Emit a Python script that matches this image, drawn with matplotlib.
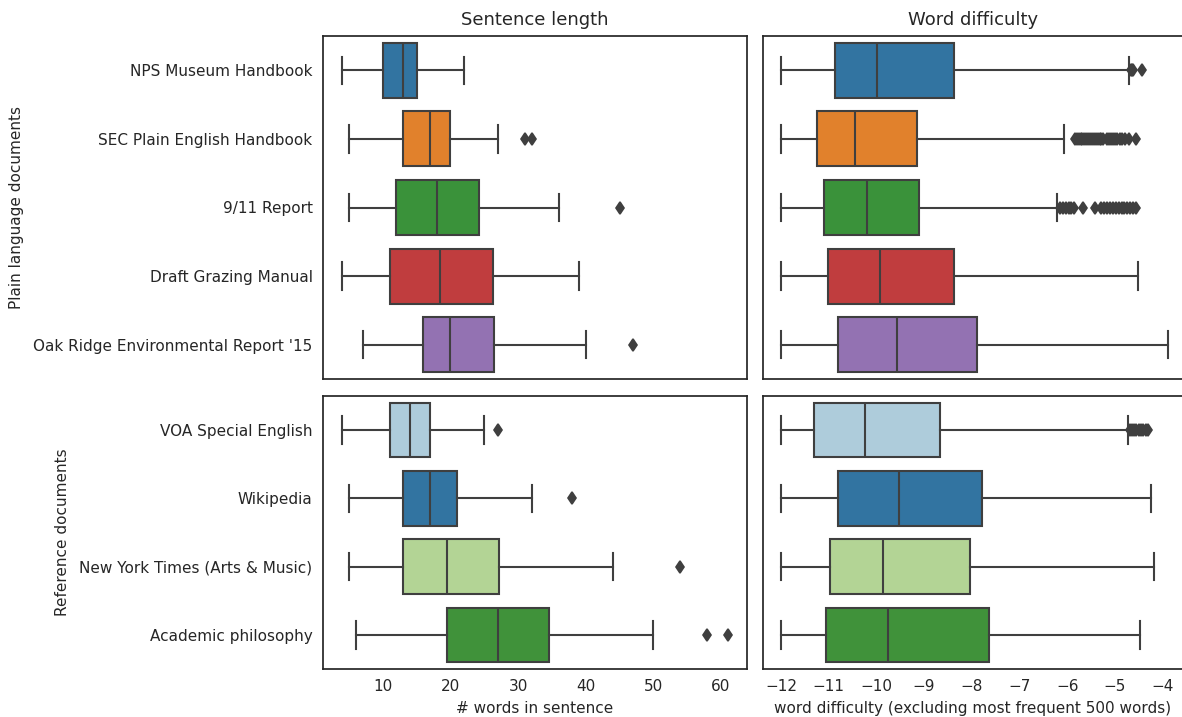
import colorsys
import matplotlib
matplotlib.use("Agg")
import matplotlib.pyplot as plt
from matplotlib import colors as mcolors

# ---------------- data ----------------
plain_docs = ["NPS Museum Handbook", "SEC Plain English Handbook", "9/11 Report",
              "Draft Grazing Manual", "Oak Ridge Environmental Report '15"]
ref_docs = ["VOA Special English", "Wikipedia", "New York Times (Arts & Music)",
            "Academic philosophy"]

# Sentence length (# words in sentence)
plain_sent_whislo = [4, 5, 5, 4, 7]
plain_sent_q1 = [10, 13, 12, 11, 16]
plain_sent_med = [13, 17, 18, 18.5, 20]
plain_sent_q3 = [15, 20, 24.25, 26.25, 26.5]
plain_sent_whishi = [22, 27, 36, 39, 40]
plain_sent_fliers = [[], [31, 32], [45], [], [47]]

ref_sent_whislo = [4, 5, 5, 6]
ref_sent_q1 = [11, 13, 13, 19.5]
ref_sent_med = [14, 17, 19.5, 27]
ref_sent_q3 = [17, 21, 27.25, 34.5]
ref_sent_whishi = [25, 32, 44, 50]
ref_sent_fliers = [[27], [38], [54], [58, 61]]

# Word difficulty
plain_diff_whislo = [-12, -12, -12, -12, -12]
plain_diff_q1 = [-10.87, -11.24, -11.11, -11.01, -10.80]
plain_diff_med = [-9.99, -10.46, -10.20, -9.92, -9.57]
plain_diff_q3 = [-8.38, -9.15, -9.10, -8.37, -7.90]
plain_diff_whishi = [-4.70, -6.07, -6.22, -4.52, -3.89]
plain_diff_fliers = [
    [-4.67, -4.64, -4.61, -4.42],
    [-5.84, -5.80, -5.76, -5.72, -5.68, -5.64, -5.60, -5.56, -5.52, -5.48, -5.44,
     -5.40, -5.36, -5.32, -5.28, -5.24, -5.16, -5.12, -5.08, -5.04, -5.00, -4.96,
     -4.90, -4.84, -4.78, -4.70, -4.56],
    [-6.15, -6.09, -6.03, -5.97, -5.91, -5.85, -5.66, -5.42, -5.28, -5.22, -5.16,
     -5.10, -5.04, -4.98, -4.92, -4.86, -4.80, -4.74, -4.68, -4.62, -4.56],
    [],
    [],
]

ref_diff_whislo = [-12, -12, -12, -12]
ref_diff_q1 = [-11.31, -10.81, -10.97, -11.06]
ref_diff_med = [-10.24, -9.53, -9.87, -9.75]
ref_diff_q3 = [-8.66, -7.78, -8.04, -7.63]
ref_diff_whishi = [-4.72, -4.24, -4.18, -4.47]
ref_diff_fliers = [[-4.68, -4.64, -4.60, -4.55, -4.50, -4.45, -4.40, -4.35, -4.31],
                   [], [], []]

plain_colors_base = ["#1f77b4", "#ff7f0e", "#2ca02c", "#d62728", "#9467bd"]
ref_colors_base = ["#a6cee3", "#1f78b4", "#b2df8a", "#33a02c"]

sent_xticks = [10, 20, 30, 40, 50, 60]
diff_xticks = [-12, -11, -10, -9, -8, -7, -6, -5, -4]


# ---------------- helpers ----------------
def desaturate(c, prop=0.75):
    r, g, b = mcolors.to_rgb(c)
    h, l, s = colorsys.rgb_to_hls(r, g, b)
    return colorsys.hls_to_rgb(h, l, s * prop)


def make_stats(labels, lo, q1, med, q3, hi, fliers):
    return [dict(label=lab, whislo=a, q1=b, med=c, q3=d, whishi=e, fliers=f)
            for lab, a, b, c, d, e, f in zip(labels, lo, q1, med, q3, hi, fliers)]


GRAY = "#3f3f3f"
TXT = "#262626"
LW = 1.5


def draw(ax, stats, cols):
    n = len(stats)
    res = ax.bxp(stats, positions=list(range(n)), widths=0.8, vert=False,
                 patch_artist=True, showfliers=True,
                 boxprops=dict(edgecolor=GRAY, linewidth=LW),
                 medianprops=dict(color=GRAY, linewidth=LW),
                 whiskerprops=dict(color=GRAY, linewidth=LW),
                 capprops=dict(color=GRAY, linewidth=LW),
                 flierprops=dict(marker="d", markerfacecolor=GRAY,
                                 markeredgecolor=GRAY, markersize=6.5,
                                 markeredgewidth=1.2, linestyle="none"))
    for patch, c in zip(res["boxes"], cols):
        patch.set_facecolor(desaturate(c))
    ax.set_ylim(n - 0.5, -0.5)
    ax.set_yticks(list(range(n)))
    for sp in ax.spines.values():
        sp.set_color(TXT)
        sp.set_linewidth(1.25)
    ax.tick_params(length=0, labelsize=11, colors=TXT, pad=7.5)
    ax.grid(False)


# ---------------- figure ----------------
fig = plt.figure(figsize=(11.82, 7.17), dpi=100)
W, H = 1182.0, 717.0


def box(l, t, r, b):
    return [l / W, 1 - b / H, (r - l) / W, (b - t) / H]


ax_ps = fig.add_axes(box(323, 36, 747, 379))
ax_pd = fig.add_axes(box(763, 36, 1183, 379))
ax_rs = fig.add_axes(box(323, 396, 747, 669))
ax_rd = fig.add_axes(box(763, 396, 1183, 669))

draw(ax_ps, make_stats(plain_docs, plain_sent_whislo, plain_sent_q1, plain_sent_med,
                       plain_sent_q3, plain_sent_whishi, plain_sent_fliers),
     plain_colors_base)
draw(ax_pd, make_stats(plain_docs, plain_diff_whislo, plain_diff_q1, plain_diff_med,
                       plain_diff_q3, plain_diff_whishi, plain_diff_fliers),
     plain_colors_base)
draw(ax_rs, make_stats(ref_docs, ref_sent_whislo, ref_sent_q1, ref_sent_med,
                       ref_sent_q3, ref_sent_whishi, ref_sent_fliers),
     ref_colors_base)
draw(ax_rd, make_stats(ref_docs, ref_diff_whislo, ref_diff_q1, ref_diff_med,
                       ref_diff_q3, ref_diff_whishi, ref_diff_fliers),
     ref_colors_base)

for ax in (ax_ps, ax_rs):
    ax.set_xlim(1.15, 63.85)
    ax.set_xticks(sent_xticks)
for ax in (ax_pd, ax_rd):
    ax.set_xlim(-12.38, -3.57)
    ax.set_xticks(diff_xticks)

ax_ps.set_yticklabels(plain_docs)
ax_rs.set_yticklabels(ref_docs)
ax_pd.set_yticklabels([])
ax_rd.set_yticklabels([])
ax_ps.set_xticklabels([])
ax_pd.set_xticklabels([])
ax_rs.set_xticklabels([str(t) for t in sent_xticks])
ax_rd.set_xticklabels(["\u2212" + str(abs(t)) for t in diff_xticks])

ax_ps.set_title("Sentence length", fontsize=13, color=TXT, pad=8)
ax_pd.set_title("Word difficulty", fontsize=13, color=TXT, pad=8)
ax_rs.set_xlabel("# words in sentence", fontsize=11, color=TXT, labelpad=5)
ax_rd.set_xlabel("word difficulty (excluding most frequent 500 words)",
                 fontsize=11, color=TXT, labelpad=5)
ax_ps.set_ylabel("Plain language documents", fontsize=11, color=TXT, labelpad=7)
ax_rs.set_ylabel("Reference documents", fontsize=11, color=TXT, labelpad=7)

fig.savefig("out.png", dpi=100)
